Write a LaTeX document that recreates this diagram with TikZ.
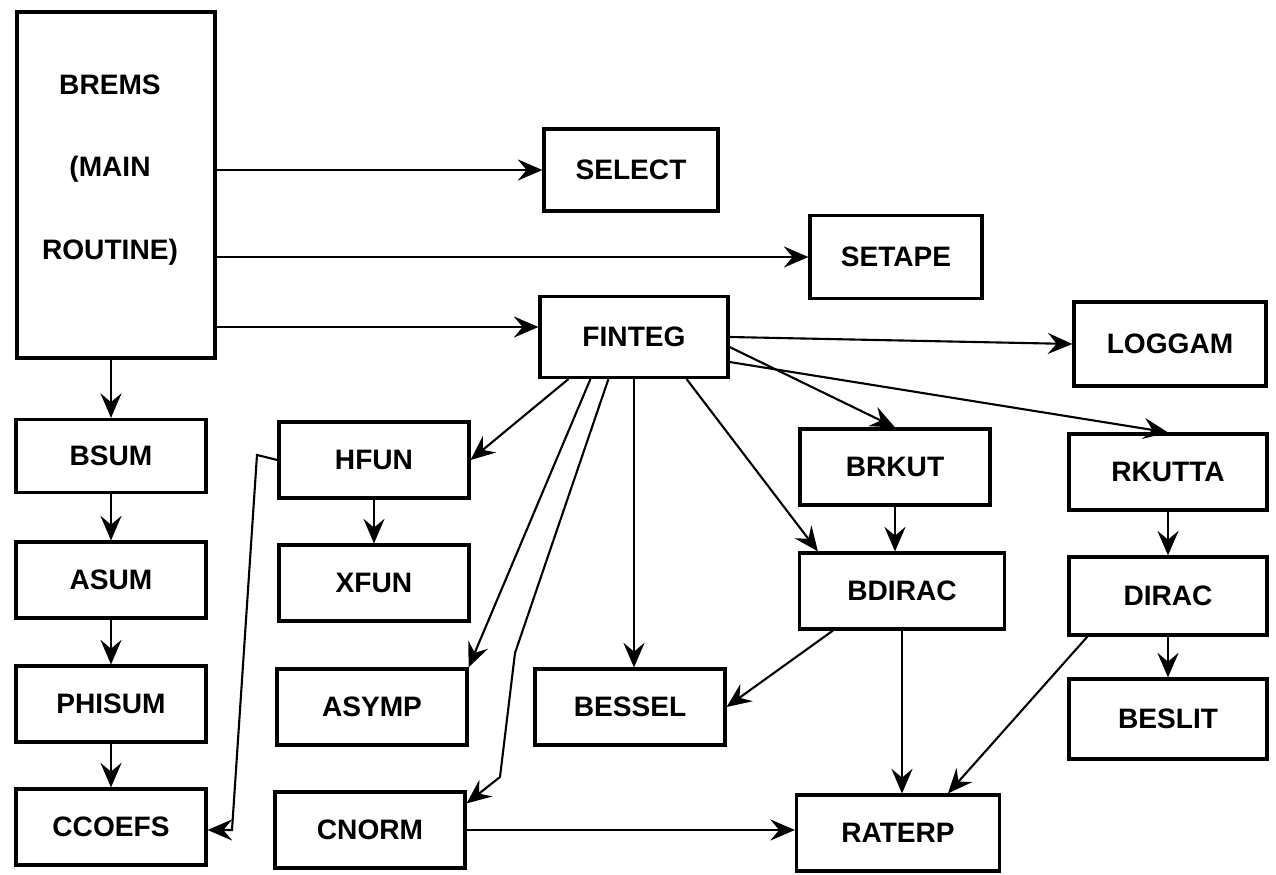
\documentclass[tikz,border=0pt]{standalone}
\usepackage{fontspec}
\setmainfont{Liberation Sans}
\usetikzlibrary{arrows.meta}

\begin{document}
\begin{tikzpicture}[
        x=0.02cm, y=-0.02cm,
        routine/.style={draw, line width=1.8pt, minimum width=3.8cm, minimum height=1.52cm, inner sep=0pt, font=\bfseries\fontsize{16}{19}\selectfont},
        call/.style={-{Stealth[length=14pt, width=12pt, inset=5pt]}, line width=1.2pt},
    ]
    \useasboundingbox (0,0) rectangle (1276,875);

    \node[routine, minimum width=3.96cm, minimum height=6.92cm](brems) at (116,185) {};
    \node[align=center, font=\bfseries\fontsize{16}{47}\selectfont](bremstext) at (110,170) {BREMS\\(MAIN\\ROUTINE)};

    \node[routine, minimum width=3.48cm, minimum height=1.64cm](select) at (631,170) {SELECT};
    \node[routine, minimum width=3.44cm, minimum height=1.66cm](setape) at (896,257) {SETAPE};
    \node[routine, minimum width=3.76cm, minimum height=1.62cm](finteg) at (634,337) {FINTEG};
    \node[routine, minimum width=3.84cm, minimum height=1.68cm](loggam) at (1170,344) {LOGGAM};

    \node[routine, minimum height=1.46cm](bsum) at (111,456) {BSUM};
    \node[routine](asum) at (111,580) {ASUM};
    \node[routine](phisum) at (111,704) {PHISUM};
    \node[routine](ccoefs) at (111,827) {CCOEFS};

    \node[routine](hfun) at (374,460) {HFUN};
    \node[routine](xfun) at (374,583) {XFUN};
    \node[routine](asymp) at (372,707) {ASYMP};
    \node[routine](cnorm) at (370,830) {CNORM};

    \node[routine](bessel) at (630,707) {BESSEL};

    \node[routine](brkut) at (895,467) {BRKUT};
    \node[routine, minimum width=4.1cm](bdirac) at (902,591) {BDIRAC};
    \node[routine, minimum width=4.06cm](raterp) at (898,833) {RATERP};

    \node[routine, minimum width=3.96cm](rkutta) at (1168,472) {RKUTTA};
    \node[routine, minimum width=3.96cm, minimum height=1.56cm](dirac) at (1168,596) {DIRAC};
    \node[routine, minimum width=3.96cm, minimum height=1.6cm](beslit) at (1168,719) {BESLIT};

    \coordinate (finin) at ([yshift=0.2cm]finteg.west);
    \coordinate (h1) at (257,455);
    \coordinate (h2) at (232,830);
    \coordinate (c1) at (515,653);
    \coordinate (c2) at (500,777);

    \draw[call] (brems.east |- select.west) -- (select.west);
    \draw[call] (brems.east |- setape.west) -- (setape.west);
    \draw[call] (brems.east |- finin) -- (finin);
    \draw[call] (brems.south -| bsum.north) -- (bsum.north);
    \draw[call] (bsum) -- (asum);
    \draw[call] (asum) -- (phisum);
    \draw[call] (phisum) -- (ccoefs);

    \draw[call] (hfun.west) -- (h1) -- (h2) -- (h2 -| ccoefs.east);
    \draw[call] (hfun) -- (xfun);

    \draw[call] ([xshift=0.6cm]finteg.south west) -- (hfun.east);
    \draw[call] ([xshift=1.04cm]finteg.south west) -- (asymp.north east);
    \draw[call] ([xshift=1.4cm]finteg.south west) -- (c1) -- (c2) -- ([yshift=-0.26cm]cnorm.north east);
    \draw[call] (finteg.south) -- (finteg.south |- bessel.north);
    \draw[call] ([xshift=-0.86cm]finteg.south east) -- ([xshift=0.4cm]bdirac.north west);
    \draw[call] (finteg.east) -- (loggam.west);
    \draw[call] ([yshift=-0.2cm]finteg.east) -- (brkut.north);
    \draw[call] ([yshift=-0.5cm]finteg.east) -- (rkutta.north);

    \draw[call] (brkut.south) -- (brkut.south |- bdirac.north);
    \draw[call] (rkutta) -- (dirac);
    \draw[call] (dirac) -- (beslit);
    \draw[call] ([xshift=0.7cm]bdirac.south west) -- (bessel.east);
    \draw[call] (bdirac.south) -- (bdirac.south |- raterp.north);
    \draw[call] ([xshift=0.4cm]dirac.south west) -- ([xshift=1cm]raterp.north);
    \draw[call] (cnorm.east) -- (cnorm.east -| raterp.west);

\end{tikzpicture}
\end{document}
